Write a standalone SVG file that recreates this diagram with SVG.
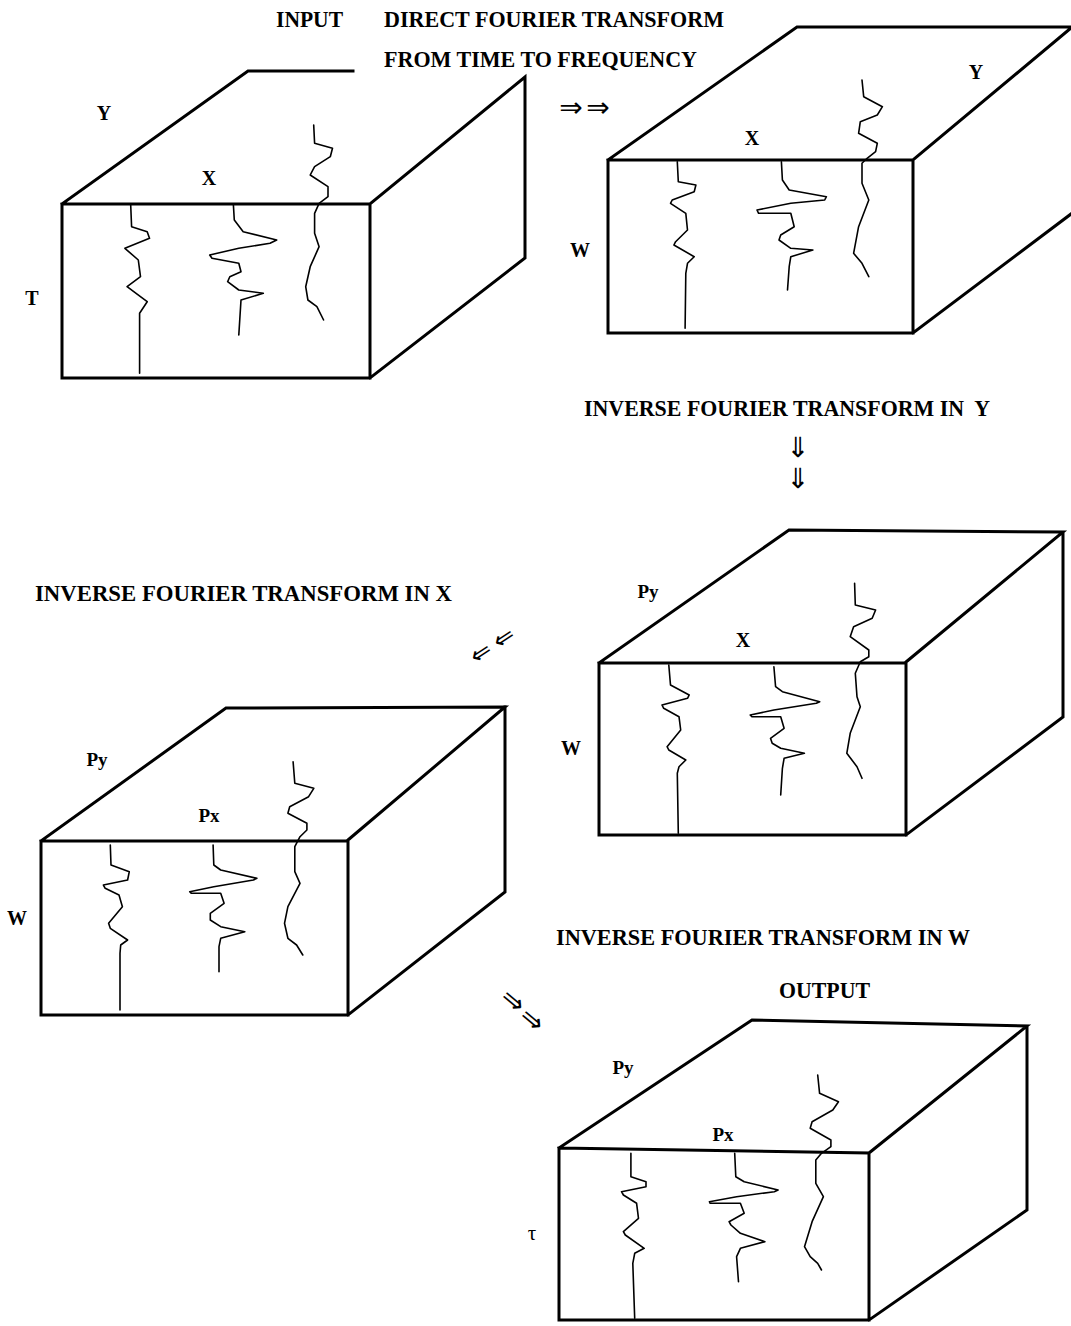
<svg xmlns="http://www.w3.org/2000/svg" width="1071" height="1326" viewBox="0 0 1071 1326">
<style>
.edge{fill:none;stroke:#000;stroke-width:3;stroke-linejoin:miter;stroke-linecap:square}
.trace{fill:none;stroke:#000;stroke-width:1.6;stroke-linejoin:round;stroke-linecap:round}
.cap{font-family:"Liberation Serif","Times New Roman",serif;font-weight:bold;font-size:23px;fill:#000}
.lab{font-family:"Liberation Serif","Times New Roman",serif;font-weight:bold;font-size:20px;fill:#000;text-anchor:middle}
.sub{font-family:"Liberation Serif","Times New Roman",serif;font-weight:bold;font-size:19px;fill:#000;text-anchor:middle}
.tau{font-family:"Liberation Serif","Times New Roman",serif;font-size:21px;fill:#000;text-anchor:middle}
.arr{font-family:"DejaVu Sans",sans-serif;font-size:28px;fill:#000;text-anchor:middle}
.arrs{font-family:"DejaVu Sans",sans-serif;font-size:25px;fill:#000;text-anchor:middle}
</style>
<rect width="1071" height="1326" fill="#fff"/>

<g id="captions">
<text class="cap" x="276" y="27" textLength="67" lengthAdjust="spacingAndGlyphs">INPUT</text>
<text class="cap" x="384" y="27" textLength="340" lengthAdjust="spacingAndGlyphs">DIRECT FOURIER TRANSFORM</text>
<text class="cap" x="384" y="67" textLength="313" lengthAdjust="spacingAndGlyphs">FROM TIME TO FREQUENCY</text>
<text class="cap" x="584" y="416" textLength="406" lengthAdjust="spacingAndGlyphs" xml:space="preserve">INVERSE FOURIER TRANSFORM IN  Y</text>
<text class="cap" x="35" y="601" textLength="417" lengthAdjust="spacingAndGlyphs">INVERSE FOURIER TRANSFORM IN X</text>
<text class="cap" x="556" y="945" textLength="414" lengthAdjust="spacingAndGlyphs">INVERSE FOURIER TRANSFORM IN W</text>
<text class="cap" x="779" y="998" textLength="91" lengthAdjust="spacingAndGlyphs">OUTPUT</text>
</g>

<g id="box-input">
<path class="edge" d="M62,204 H370 V378 H62 Z M62,204 L248,71 H353 M370,204 L525,77 V258 L370,378"/>
<polyline class="trace" points="130.7,205 131.6,226.7 147.2,231.7 149.5,238.3 124.9,248.3 138.3,260 140.5,276.7 127.1,286.7 136.1,293.3 147.2,301.7 139.6,313.3 139.6,373.3"/>
<polyline class="trace" points="233.4,205 234.3,220 243.2,231.7 276.7,240 270,243.3 238.8,248.3 209.7,255 212,258.3 238.8,263.3 241,271.7 229.8,276.7 227.6,281.7 238.8,290 263.3,293.3 241,300 238.8,335"/>
<polyline class="trace" points="313.7,125 314.6,143.3 332.5,148.3 330.3,156.7 314.6,166.7 310.2,175 328,186.7 328,196.7 319.1,203.3 314.6,213.3 314.6,233.3 319.1,246.7 310.2,266.7 305.7,286.7 307.9,300 316.9,306.7 323.6,320"/>
<text class="lab" x="104" y="120">Y</text>
<text class="lab" x="209" y="185">X</text>
<text class="lab" x="32" y="305">T</text>
</g>

<g id="box-freq">
<path class="edge" d="M608,160 H913 V333 H608 Z M608,160 L797,27 H1071 M913,160 L1071,28 M913,333 L1071,214"/>
<polyline class="trace" points="677.3,161.7 678.3,181.7 695.9,185 694.2,191.7 672.2,200 670.5,203.3 685.8,213.3 687.5,230 675.6,241.7 673.9,245 694.2,256.7 687.5,263.3 685.8,273.3 685.1,328.3"/>
<polyline class="trace" points="781.4,161.7 782.4,180 789.2,190 826.4,196.7 824.7,200 790.8,203.3 757,210 758.6,213.3 790.8,213.3 794.2,226.7 780.7,235 779,240 790.8,248.3 812.9,250 790.8,256.7 789.2,266.7 787.5,290"/>
<polyline class="trace" points="862,80 863.7,96.7 882.4,106.7 877.3,115 860.3,121.7 858.6,133.3 877.3,143.3 875.6,151.7 867.1,158.3 862,163.3 862,183.3 868.8,200 858.6,226.7 853.6,253.3 862,263.3 868.8,276.7"/>
<text class="lab" x="976" y="79">Y</text>
<text class="lab" x="752" y="145">X</text>
<text class="lab" x="580" y="257">W</text>
</g>

<g id="box-py">
<path class="edge" d="M599,663 H906 V835 H599 Z M599,663 L789,530 L1063,532 L906,662 M1063,532 V717 L906,835"/>
<polyline class="trace" points="668.8,665 670.5,685 689.2,695 687.5,698.3 662,705 663.7,708.3 679,716.7 680.7,730 667.1,746.7 668.8,750 685.8,760 679,766.7 677.3,773.3 678.3,833.3"/>
<polyline class="trace" points="773.9,666.7 775.6,686.7 782.4,691.7 819.7,701.7 816.3,703.3 773.9,710 750.2,715 751.9,716.7 780.7,716.7 784.1,728.3 770.5,738.3 772.2,743.3 780.7,748.3 804.4,753.3 784.1,758.3 782.4,768.3 780.7,795"/>
<polyline class="trace" points="854.6,583.3 855.3,605 875.6,610 872.2,618.3 853.6,626.7 850.2,636.7 868.8,650 868.8,656.7 860.3,661.7 855.3,673.3 857,696.7 860.3,706.7 850.2,733.3 846.8,753.3 857,766.7 862,778.3"/>
<text class="sub" x="648" y="598">Py</text>
<text class="lab" x="743" y="647">X</text>
<text class="lab" x="571" y="755">W</text>
</g>

<g id="box-pxpy">
<path class="edge" d="M41,841 H348 V1015 H41 Z M41,841 L226,708 L505,707 L348,840 M505,707 V892 L348,1015"/>
<polyline class="trace" points="110.3,845 111,865 129.3,871.7 127.6,880 103.4,885 105.2,888.3 119,895 122.4,906.7 108.6,923.3 110.3,928.3 127.6,940 120.7,945 120,953.3 120,1010"/>
<polyline class="trace" points="213.1,845 213.8,865 220.7,870 256.9,878.3 253.4,880 213.8,886.7 189.7,891.7 191.4,893.3 220.7,893.3 224.1,903.3 210.3,913.3 210.3,920 220.7,926.7 244.8,931.7 220.7,938.3 219,946.7 219,971.7"/>
<polyline class="trace" points="293.1,761.7 294.8,783.3 313.8,788.3 308.6,796.7 289.7,806.7 287.9,813.3 306.9,823.3 306.9,830 300,836.7 294.8,846.7 294.8,871.7 300,883.3 287.9,906.7 284.5,923.3 287.9,938.3 296.6,945 302.8,955"/>
<text class="sub" x="97" y="766">Py</text>
<text class="sub" x="209" y="822">Px</text>
<text class="lab" x="17" y="925">W</text>
</g>

<g id="box-output">
<path class="edge" d="M559,1148 L869,1153 V1320 H559 Z M559,1148 L752,1020 L1027,1026 L869,1153 M1027,1026 V1210 L869,1320"/>
<polyline class="trace" points="630.9,1153.3 630.9,1176.7 646,1181.7 646,1186.7 621.5,1191.7 623.4,1195 636.6,1203.3 638.5,1218.3 623.4,1231.7 625.3,1235 644.2,1248.3 634.7,1253.3 632.8,1263.3 634.7,1318.3"/>
<polyline class="trace" points="734.7,1153.3 735.8,1176.7 744.2,1181.7 778.1,1190 774.3,1191.7 736.6,1196.7 709.4,1201.7 710.2,1203.3 740.4,1203.3 744.2,1213.3 729.1,1221.7 730.9,1225 740.4,1233.3 764.9,1241.7 740.4,1248.3 736.6,1256.7 738.5,1281.7"/>
<polyline class="trace" points="817.7,1075 819.6,1093.3 838.5,1101.7 832.8,1110 812.1,1121.7 810.2,1128.3 830.9,1140 830.9,1146.7 821.5,1153.3 815.8,1160 815.8,1183.3 823.4,1196.7 812.1,1221.7 804.5,1246.7 810.2,1256.7 817.7,1263.3 821.5,1270"/>
<text class="sub" x="623" y="1074">Py</text>
<text class="sub" x="723" y="1141">Px</text>
<text class="tau" x="532" y="1240">τ</text>
</g>

<g id="connectors">
<text class="arr" x="571" y="117">⇒</text>
<text class="arr" x="598" y="117">⇒</text>
<text class="arr" transform="translate(798,447) rotate(90)" y="9">⇒</text>
<text class="arr" transform="translate(798,478) rotate(90)" y="9">⇒</text>
<text class="arrs" transform="translate(481,653) rotate(-33)" y="8">⇐</text>
<text class="arrs" transform="translate(504,638) rotate(-33)" y="8">⇐</text>
<text class="arr" transform="translate(513,1001) rotate(40)" y="9">⇒</text>
<text class="arr" transform="translate(532,1020) rotate(40)" y="9">⇒</text>
</g>
</svg>
